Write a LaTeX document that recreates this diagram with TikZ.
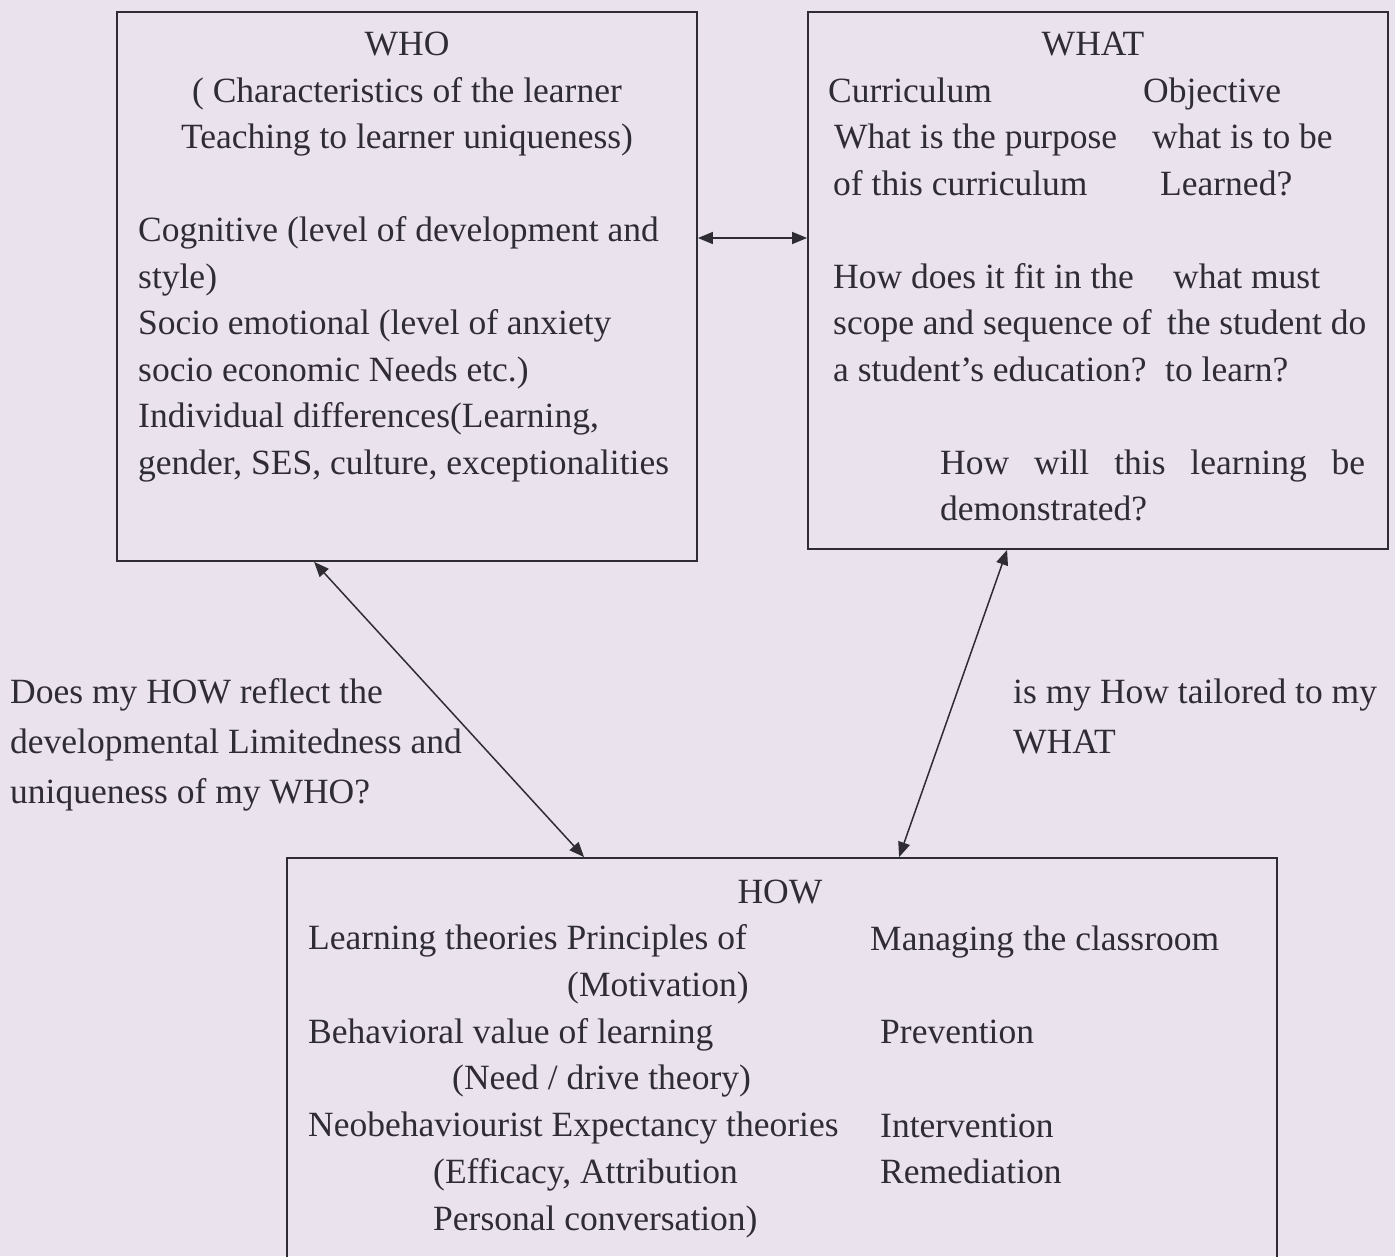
\documentclass[tikz,border=0pt]{standalone}
\usepackage{fontspec}
\setmainfont{Liberation Serif}
\usetikzlibrary{arrows.meta,calc}
\definecolor{paper}{RGB}{234,227,238}
\definecolor{ink}{RGB}{48,44,52}

\begin{document}
\begin{tikzpicture}[x=1pt,y=-1pt,
  box/.style={draw=ink,line width=1.8pt,inner sep=0pt},
  txt/.style={text=ink,inner sep=0pt,align=left,font=\fontsize{35.5}{46.5}\selectfont},
  link/.style={draw=ink,line width=1.5pt,<->,>={Triangle[length=15pt,width=12pt]}}]
\useasboundingbox (0,0) rectangle (1395,1256);
\clip (0,0) rectangle (1395,1256);
\fill[paper] (0,0) rectangle (1395,1256);

% the three boxes
\node[box,minimum width=580,minimum height=549] (who) at (407,286.5) {};
\node[box,minimum width=580,minimum height=537] (what) at (1098,280.5) {};
\node[box,minimum width=990,minimum height=440] (how) at (782,1078) {};

% text blocks sit on the baseline of their last line
% WHO
\node[txt,align=center,anchor=base] (whohead) at (407,148.5) {WHO\\( Characteristics of the learner\\Teaching to learner uniqueness)};
\node[txt,anchor=base west] (whobody) at (138,474) {Cognitive (level of development and\\style)\\Socio emotional (level of anxiety\\socio economic Needs etc.)\\Individual differences(Learning,\\gender, SES, culture, exceptionalities};

% WHAT
\node[txt,anchor=base] (whathead) at (1093,55) {WHAT};
\node[txt,anchor=base west] (curric) at (828,195) {Curriculum\\\hspace*{6pt}What is the purpose\\\hspace*{5pt}of this curriculum};
\node[txt,anchor=base west] (object) at (1143,195) {Objective\\\hspace*{9pt}what is to be\\\hspace*{17pt}Learned?};
\node[txt,anchor=base west] (scope) at (833,381) {How does it fit in the\\scope and sequence of\\a student's education?};
\node[txt,anchor=base west] (must) at (1165,381) {\hspace*{8pt}what must\\\hspace*{2pt}the student do\\to learn?};
\node[txt,anchor=base west] (demo) at (940,520.5) {\makebox[425pt][s]{How will this learning be}\\demonstrated?};

% questions beside the links
\node[txt,anchor=base west,font=\fontsize{35.5}{50}\selectfont] (askwho) at (10,803) {Does my HOW reflect the\\developmental Limitedness and\\uniqueness of my WHO?};
\node[txt,anchor=base west,font=\fontsize{35.5}{50}\selectfont] (askwhat) at (1013,753) {is my How tailored to my\\WHAT};

% HOW
\node[txt,anchor=base] (howhead) at (780,903) {HOW};
\node[txt,anchor=base west,font=\fontsize{35.5}{46.7}\selectfont] (theory) at (308,1230) {Learning theories Principles of\\\hspace*{259pt}(Motivation)\\Behavioral value of learning\\\hspace*{144pt}(Need / drive theory)\\Neobehaviourist Expectancy theories\\\hspace*{125pt}(Efficacy, Attribution\\\hspace*{125pt}Personal conversation)};
\node[txt,anchor=base west] (manage) at (870,950) {Managing the classroom};
\node[txt,anchor=base west] (prevent) at (880,1043) {Prevention};
\node[txt,anchor=base west] (interv) at (880,1137) {Intervention};
\node[txt,anchor=base west] (remed) at (880,1183) {Remediation};

% links
\draw[link] ([yshift=48.5]who.east) -- ([yshift=42.5]what.west);
\draw[link] ([xshift=198]who.south west) -- ([xshift=298]how.north west);
\draw[link] ([xshift=200]what.south west) -- ([xshift=613]how.north west);
\end{tikzpicture}
\end{document}
